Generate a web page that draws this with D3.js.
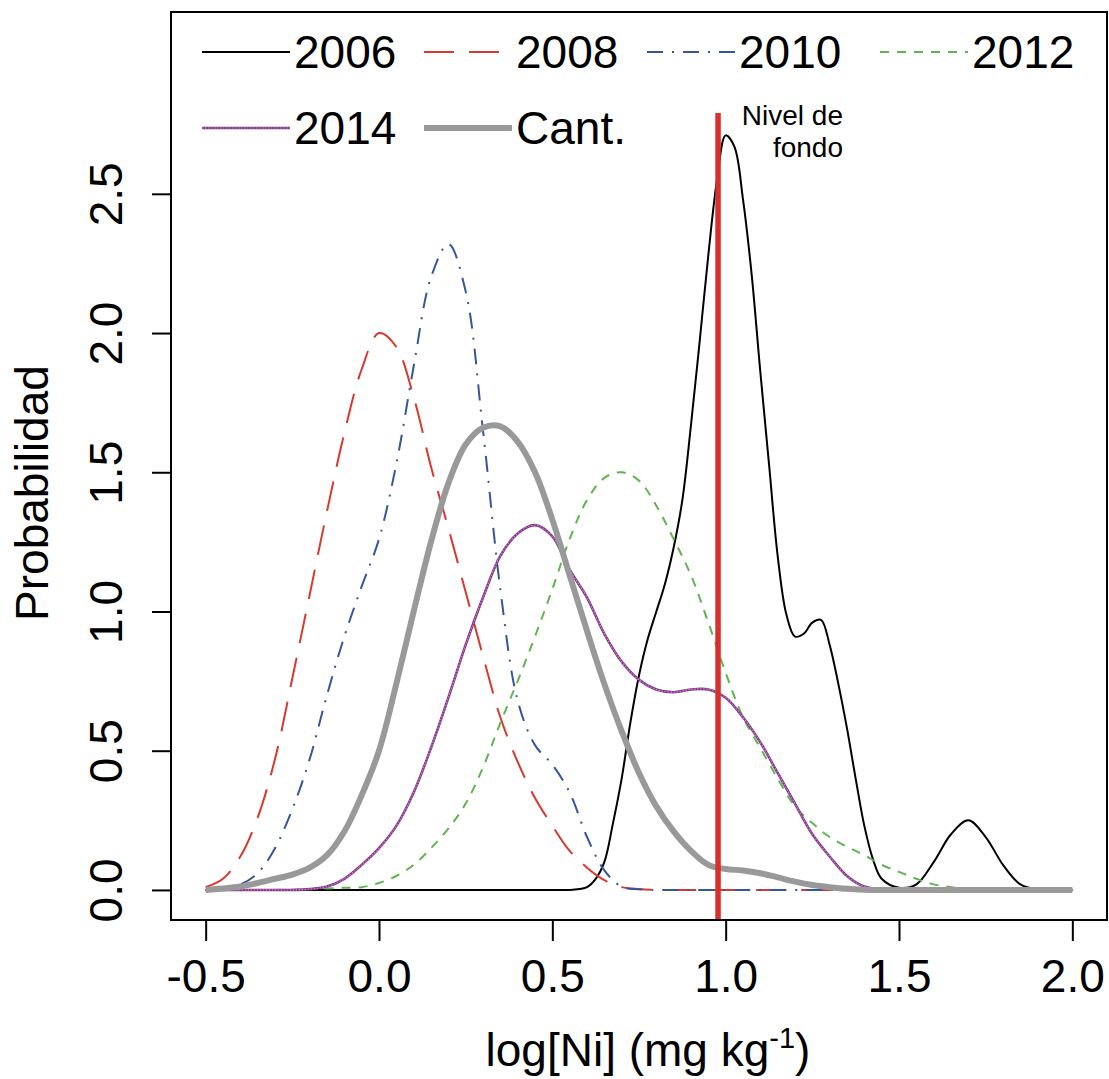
<!DOCTYPE html>
<html>
<head>
<meta charset="utf-8">
<script src="https://cdn.jsdelivr.net/npm/d3@7"></script>
<style>
  body { margin: 0; background: #fff; }
  svg text { font-family: "Liberation Sans", Arial, sans-serif; fill: #000; }
</style>
</head>
<body>
<div id="here"></div>
<script>
// DATA
// shared grid of log[Ni] values (step 0.05)
const grid = [-0.5,-0.45,-0.4,-0.35,-0.3,-0.25,-0.2,-0.15,-0.1,-0.05,
  0,0.05,0.1,0.15,0.2,0.25,0.3,0.35,0.4,0.45,
  0.5,0.55,0.6,0.65,0.7,0.75,0.8,0.85,0.9,0.95,
  1.0,1.05,1.1,1.15,1.2,1.25,1.3,1.35,1.4,1.45,
  1.5,1.55,1.6,1.65,1.7,1.75,1.8,1.85,1.9,1.95,2.0];

const d2008 = [0.01,0.04,0.12,0.26,0.47,0.76,1.06,1.36,1.64,1.87,
  2.0,1.95,1.77,1.52,1.30,1.07,0.84,0.62,0.46,0.33,
  0.23,0.14,0.08,0.035,0.01,0.003,0,0,0,0,
  0,0,0,0,0,0,0,0,0,0, 0,0,0,0,0,0,0,0,0,0,0];

const d2010 = [0,0.005,0.02,0.06,0.15,0.29,0.47,0.70,0.91,1.09,
  1.26,1.53,1.88,2.2,2.32,2.15,1.65,1.08,0.68,0.52,
  0.45,0.35,0.19,0.07,0.012,0.002,0,0,0,0,
  0,0,0,0,0,0,0,0,0,0, 0,0,0,0,0,0,0,0,0,0,0];

const d2012 = [0,0,0,0,0,0.001,0.003,0.005,0.008,0.01,
  0.025,0.05,0.09,0.15,0.22,0.31,0.44,0.6,0.75,0.91,
  1.08,1.26,1.4,1.48,1.5,1.47,1.38,1.26,1.13,0.96,
  0.78,0.62,0.51,0.4,0.3,0.24,0.19,0.155,0.125,0.09,
  0.065,0.04,0.02,0.01,0.004,0.001,0,0,0,0,0];

const d2014 = [0,0,0,0,0,0,0.003,0.012,0.04,0.09,
  0.15,0.23,0.35,0.51,0.69,0.88,1.05,1.2,1.28,1.31,
  1.27,1.15,1.05,0.92,0.82,0.755,0.72,0.71,0.72,0.72,
  0.69,0.62,0.53,0.42,0.31,0.2,0.12,0.05,0.012,0.002,
  0,0,0,0,0,0,0,0,0,0,0];

const dCant = [0,0.005,0.012,0.025,0.04,0.055,0.08,0.125,0.21,0.34,
  0.5,0.74,1.0,1.25,1.46,1.6,1.66,1.665,1.61,1.5,
  1.33,1.13,0.93,0.74,0.57,0.42,0.3,0.21,0.14,0.09,
  0.075,0.07,0.06,0.045,0.03,0.018,0.01,0.004,0.001,0,
  0,0,0,0,0,0,0,0,0,0,0];

// 2006 has sharp peaks, so it gets its own finer grid
const x2006 = [-0.5,0.5,0.55,0.6,0.625,0.65,0.675,0.7,0.725,0.75,0.775,0.8,0.825,0.85,0.875,
  0.9,0.925,0.95,0.975,1.0,1.025,1.05,1.075,1.1,1.125,1.15,1.175,1.2,1.225,1.25,
  1.275,1.3,1.325,1.35,1.375,1.4,1.425,1.45,1.5,1.55,1.6,1.65,1.7,1.75,1.8,1.85,1.9,2.0];
const d2006 = [0,0,0,0.01,0.04,0.1,0.24,0.4,0.6,0.77,0.9,1.0,1.1,1.23,1.4,
  1.67,1.97,2.28,2.55,2.71,2.67,2.48,2.21,1.86,1.53,1.2,0.99,0.91,0.92,0.96,
  0.97,0.88,0.74,0.58,0.4,0.23,0.11,0.04,0.008,0.02,0.1,0.2,0.25,0.19,0.09,0.02,0.002,0];

const seriesNames = ["2006", "2008", "2010", "2012", "2014", "Cant."];
const xTicks = [-0.5, 0, 0.5, 1.0, 1.5, 2.0];
const yTicks = [0, 0.5, 1.0, 1.5, 2.0, 2.5];
const bgLevel = 0.978;      // Nivel de fondo
const bgLineTop = 2.79;

// CHART
const width = 1109, height = 1079;

const svg = d3.select("#here")
  .append("svg")
  .attr("width", width)
  .attr("height", height);

const x = d3.scaleLinear().domain([-0.6, 2.1]).range([171, 1107]);
const y = d3.scaleLinear().domain([-0.108, 3.153]).range([920, 12]);

// styles for each series
const styles = {
  "2006": [{ stroke: "#000", width: 2 }],
  "2008": [{ stroke: "#d8392f", width: 2, dash: "30,15" }],
  "2010": [{ stroke: "#34569a", width: 2, dash: "16,9,2,9" }],
  "2012": [{ stroke: "#5fb54e", width: 2, dash: "9,8" }],
  "2014": [{ stroke: "#7b3a86", width: 2.6 }, { stroke: "#e27ccc", width: 1.2, dash: "1.5,1.5" }],
  "Cant.": [{ stroke: "#999", width: 6 }]
};

const series = [
  { name: "2006", xs: x2006, ys: d2006 },
  { name: "2008", xs: grid, ys: d2008 },
  { name: "2010", xs: grid, ys: d2010 },
  { name: "2012", xs: grid, ys: d2012 },
  { name: "2014", xs: grid, ys: d2014 },
  { name: "Cant.", xs: grid, ys: dCant }
];

const line = d3.line()
  .x(d => x(d[0]))
  .y(d => Math.min(y(d[1]), y(0) + 1))
  .curve(d3.curveCatmullRom.alpha(0.5));

series.forEach(function(s) {
  const pts = s.xs.map((v, i) => [v, s.ys[i]]);
  styles[s.name].forEach(function(st) {
    svg.append("path")
      .attr("d", line(pts))
      .attr("fill", "none")
      .attr("stroke", st.stroke)
      .attr("stroke-width", st.width)
      .attr("stroke-dasharray", st.dash || null)
      .attr("stroke-linejoin", "round");
  });
});

// background level line
svg.append("line")
  .attr("x1", x(bgLevel)).attr("x2", x(bgLevel))
  .attr("y1", y(bgLineTop)).attr("y2", y.range()[0])
  .attr("stroke", "#d8302a")
  .attr("stroke-width", 5.5);

svg.append("text")
  .attr("x", 843).attr("y", 125)
  .attr("text-anchor", "end")
  .style("font-size", "28px")
  .text("Nivel de");
svg.append("text")
  .attr("x", 843).attr("y", 157)
  .attr("text-anchor", "end")
  .style("font-size", "28px")
  .text("fondo");

// frame
svg.append("rect")
  .attr("x", 171).attr("y", 12)
  .attr("width", 1107 - 171).attr("height", 920 - 12)
  .attr("fill", "none")
  .attr("stroke", "#000")
  .attr("stroke-width", 2);

// x axis
const fmt = d => d.toFixed(1);
const xAxis = svg.append("g")
  .attr("transform", "translate(0, 921)")
  .call(d3.axisBottom(x).tickValues(xTicks).tickSize(20).tickFormat(fmt));
xAxis.select(".domain").remove();
xAxis.selectAll(".tick line").attr("stroke-width", 2);
xAxis.selectAll(".tick text")
  .attr("y", 71).attr("dy", 0)
  .style("font-size", "46px");

// y axis
const yAxis = svg.append("g")
  .attr("transform", "translate(171, 0)")
  .call(d3.axisLeft(y).tickValues(yTicks).tickSize(19).tickFormat(fmt));
yAxis.select(".domain").remove();
yAxis.selectAll(".tick line").attr("stroke-width", 2);
yAxis.selectAll(".tick text")
  .attr("x", 0).attr("y", -49).attr("dy", 0)
  .attr("transform", "rotate(-90)")
  .attr("text-anchor", "middle")
  .style("font-size", "46px");

// axis labels
const xLab = svg.append("text")
  .attr("x", 648).attr("y", 1066)
  .attr("text-anchor", "middle")
  .style("font-size", "46px");
xLab.append("tspan").text("log[Ni] (mg kg");
xLab.append("tspan").attr("dy", -18).style("font-size", "29px").text("-1");
xLab.append("tspan").attr("dy", 18).text(")");

svg.append("text")
  .attr("transform", "translate(48, 493) rotate(-90)")
  .attr("text-anchor", "middle")
  .style("font-size", "46px")
  .text("Probabilidad");

// legend
const legCol = [202, 424, 647, 880];
const legRow = [52, 128];
seriesNames.forEach(function(name, i) {
  const lx = legCol[i % 4];
  const ly = legRow[Math.floor(i / 4)];
  styles[name].forEach(function(st) {
    svg.append("line")
      .attr("x1", lx).attr("x2", lx + 88)
      .attr("y1", ly).attr("y2", ly)
      .attr("stroke", st.stroke)
      .attr("stroke-width", st.width)
      .attr("stroke-dasharray", st.dash || null);
  });
  svg.append("text")
    .attr("x", lx + 92).attr("y", ly + 16)
    .style("font-size", "46px")
    .text(name);
});
</script>
</body>
</html>
